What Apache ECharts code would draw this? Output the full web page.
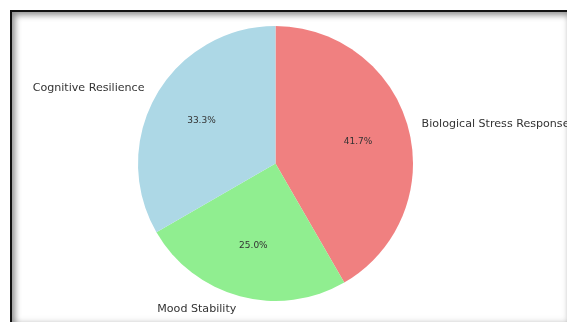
<!DOCTYPE html>
<html>
<head>
<meta charset="utf-8">
<script src="https://cdn.jsdelivr.net/npm/echarts@6/dist/echarts.min.js"></script>
<style>
html,body{margin:0;padding:0;width:567px;height:322px;overflow:hidden;background:#fff;}
#chart{position:absolute;left:0;top:0;width:800px;height:322px;}
#frame{position:absolute;left:10px;top:10px;width:557px;height:312px;box-sizing:border-box;
  border-top:2px solid #111;border-left:2px solid #111;
  box-shadow:inset 3px 3px 6px rgba(0,0,0,0.45), inset -2px -3px 5px rgba(0,0,0,0.05);
  pointer-events:none;}
</style>
</head>
<body>
<div id="chart"></div>
<div id="frame"></div>
<script>
const categories = ['Biological Stress Response', 'Mood Stability', 'Cognitive Resilience'];
const values = [5, 3, 4];
const colors = ['#F08080', '#90EE90', '#ADD8E6'];

const chart = echarts.init(document.getElementById('chart'), null, {renderer: 'canvas'});
const data = categories.map((c, i) => ({name: c, value: values[i], itemStyle: {color: colors[i]}}));
const R = 137.5;
const center = [275.5, 163.5];
chart.setOption({
  animation: false,
  series: [
    {
      type: 'pie',
      center: center,
      radius: [0, R],
      startAngle: 90,
      clockwise: true,
      avoidLabelOverlap: false,
      silent: true,
      data: data,
      label: {
        show: true,
        position: 'outside',
        fontFamily: 'DejaVu Sans',
        fontSize: 11.1,
        color: '#333',
        distanceToLabelLine: 0,
        verticalAlign: 'middle'
      },
      labelLine: {show: false, length: R * 0.1, length2: 0},
      emphasis: {disabled: true}
    },
    {
      type: 'pie',
      center: center,
      radius: [0, R * 1.2],
      startAngle: 90,
      clockwise: true,
      avoidLabelOverlap: false,
      silent: true,
      data: categories.map((c, i) => ({name: c, value: values[i], itemStyle: {color: 'rgba(0,0,0,0)'}})),
      label: {
        show: true,
        position: 'inside',
        fontFamily: 'DejaVu Sans',
        fontSize: 9,
        color: '#333',
        formatter: p => p.percent.toFixed(1) + '%'
      },
      labelLine: {show: false},
      emphasis: {disabled: true}
    }
  ]
});
</script>
</body>
</html>
